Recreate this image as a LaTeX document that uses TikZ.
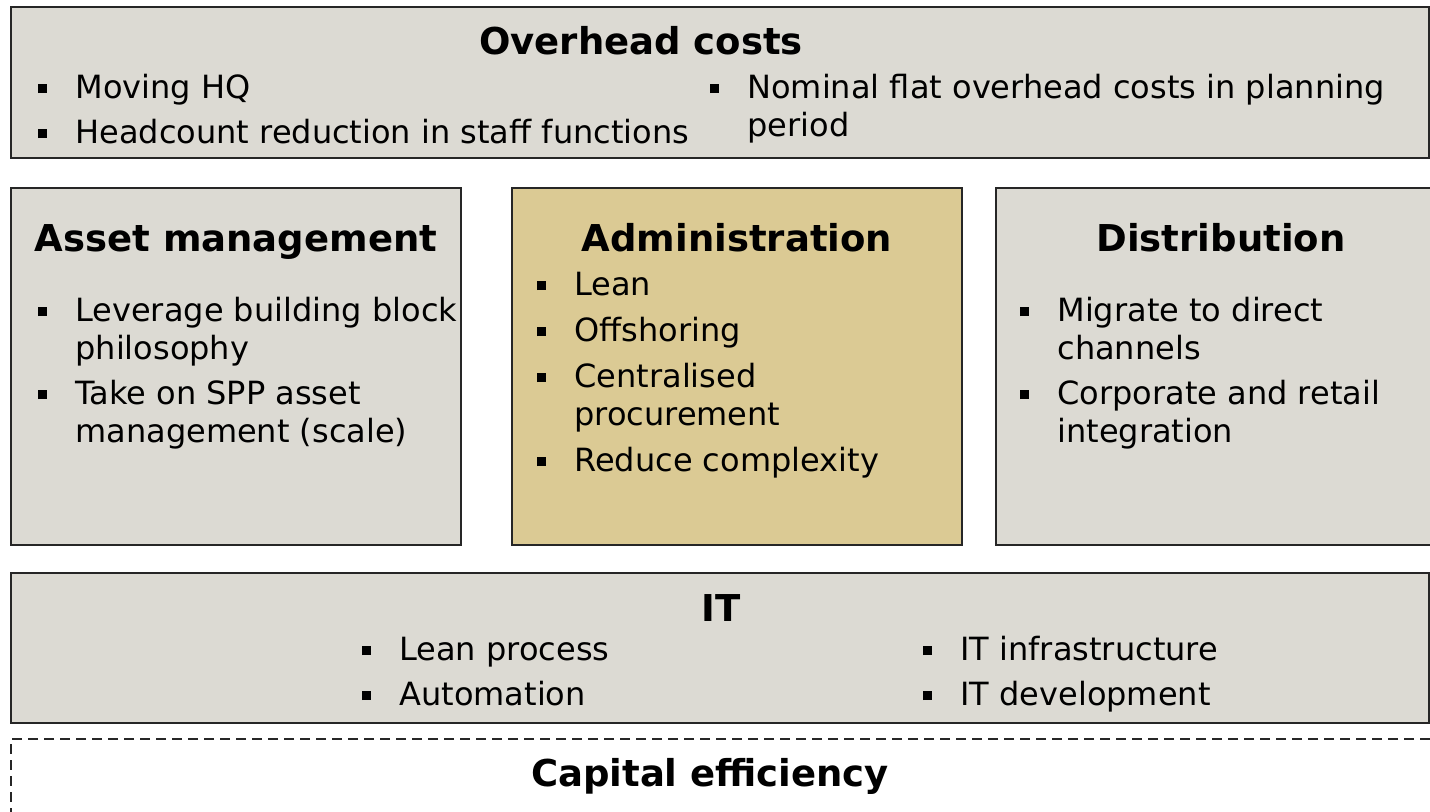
\documentclass[tikz,border=0pt]{standalone}
\usepackage{fontspec}
\setmainfont{DejaVu Sans}
\usepackage{tikz}
\usetikzlibrary{fit}
\definecolor{panel}{HTML}{DCDAD3}
\definecolor{sand}{HTML}{DBCA94}
% square bullet and a two-column list (bullet | text)
\newcommand\blt{\makebox[18.5pt][l]{\rule[2.8pt]{4.4pt}{4.4pt}}}
\newcommand\itemtab[1]{\begin{tabular}[t]{@{}l@{}l@{}}#1\end{tabular}}
\tikzset{
  blk/.style={draw=black!85,line width=1pt,fill=#1,inner sep=0pt},
  blk/.default={panel},
  dashblk/.style={draw=black!85,line width=0.6pt,dash pattern=on 5pt off 3pt,inner sep=0pt},
  hd/.style={anchor=base,inner sep=0pt,font=\fontsize{18.5}{22}\selectfont\bfseries},
  lst/.style={anchor=base west,inner sep=0pt,font=\fontsize{16}{19}\selectfont},
}

\begin{document}
\begin{tikzpicture}[x=0.5pt,y=-0.5pt]
 \useasboundingbox (0,0) rectangle (1430,812);
 \clip (0,0) rectangle (1430,812);
 % panels
 \node[blk,fit={(11,7) (1429,158)}] (ovh) {};
 \node[blk,fit={(11,188) (461,545)}] (asset) {};
 \node[blk=sand,fit={(512,188) (962,545)}] (admin) {};
 \node[blk,fit={(996,188) (1446,545)}] (distr) {};
 \node[blk,fit={(11,573) (1429,723)}] (it) {};
 \node[dashblk,fit={(11,739) (1446,840)}] (capeff) {};
 % headings
 \node[hd] (ovhT) at (641,54.5) {Overhead costs};
 \node[hd] (assetT) at (236,251.5) {Asset management};
 \node[hd] (adminT) at (737,251.5) {Administration};
 \node[hd] (distrT) at (1221,251.5) {Distribution};
 \node[hd] (itT) at (721,621.5) {IT};
 \node[hd] (capeffT) at (710,786.5) {Capital efficiency};
 % bullet lists
 \node[lst] (ovhA) at (38,98.7) {\itemtab{\blt & Moving HQ\\[3.5pt] \blt & Headcount reduction in staff functions}};
 \node[lst] (ovhB) at (710,98.7) {\itemtab{\blt & Nominal flat overhead costs in planning\\ & period}};
 \node[lst] (assetL) at (38,321.7) {\itemtab{\blt & Leverage building block\\ & philosophy\\[3.5pt] \blt & Take on SPP asset\\ & management (scale)}};
 \node[lst] (adminL) at (537,295.7) {\itemtab{\blt & Lean\\[4pt] \blt & Offshoring\\[4pt] \blt & Centralised\\ & procurement\\[4pt] \blt & Reduce complexity}};
 \node[lst] (distrL) at (1020,321.7) {\itemtab{\blt & Migrate to direct\\ & channels\\[3.5pt] \blt & Corporate and retail\\ & integration}};
 \node[lst] (itA) at (362,660.7) {\itemtab{\blt & Lean process\\[3.5pt] \blt & Automation}};
 \node[lst] (itB) at (923,660.7) {\itemtab{\blt & IT infrastructure\\[3.5pt] \blt & IT development}};
\end{tikzpicture}
\end{document}
